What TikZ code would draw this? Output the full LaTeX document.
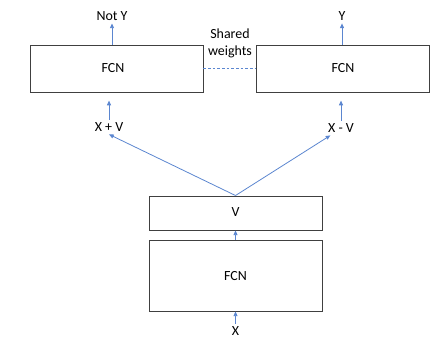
\documentclass[tikz,border=0pt]{standalone}
\usepackage{fontspec}
\setmainfont{Carlito}
\usepackage{tikz}
\usetikzlibrary{arrows.meta}

\definecolor{edgeblue}{HTML}{5B86D0}
\definecolor{boxgray}{HTML}{404040}

\tikzset{
    netbox/.style={draw=boxgray, line width=0.7pt, minimum width=4.578cm, minimum height=1.244cm, inner sep=0pt},
    flow/.style={-{Triangle[length=3.5pt,width=3pt]}, edgeblue, line width=0.6pt},
    lbl/.style={font=\fontsize{10.5pt}{12pt}\selectfont, inner sep=2pt}
}

\begin{document}
\begin{tikzpicture}[x=0.02646cm, y=-0.02646cm]
        \useasboundingbox (0,0) rectangle (434,338);
        % top pair of networks
        \node [netbox] (fcnL) at (116.5, 68.5) {};
        \node [netbox] (fcnR) at (342.5, 68.5) {};
        \node [lbl] at (113, 68.5) {FCN};
        \node [lbl] at (343, 68.5) {FCN};
        \node [lbl] (notY) at (112, 16) {Not Y};
        \node [lbl] (y) at (342, 16) {Y};
        \node [lbl, align=center, font=\fontsize{10.5pt}{12.8pt}\selectfont] (shared) at (230, 43) {Shared\\weights};
        \draw [dashed, edgeblue, line width=0.5pt, dash pattern=on 2pt off 1.5pt] (fcnL.east) -- (fcnR.west);
        \draw [flow] (notY.south |- fcnL.north) -- (notY.south);
        \draw [flow] (y.south |- fcnR.north) -- (y.south);
        % inputs to the top networks
        \node [lbl] (xpv) at (109, 127) {X + V};
        \node [lbl] (xmv) at (341, 128) {X - V};
        \draw [flow] (xpv.north) -- ++(0,-19);
        \draw [flow] (xmv.north) -- ++(0,-20);
        % lower network
        \node [netbox, minimum height=0.9cm] (v) at (235.5, 213) {};
        \node [lbl] at (235.5, 212) {V};
        \node [netbox, minimum height=1.879cm] (fcnB) at (235.5, 275.5) {};
        \node [lbl] at (235.5, 276) {FCN};
        \node [lbl] (x) at (235.5, 331) {X};
        \draw [flow] (v.north) -- (xpv.south);
        \draw [flow] (v.north) -- ([xshift=-8]xmv.south);
        \draw [flow] (fcnB.north) -- (v.south);
        \draw [flow] (x.north) -- (fcnB.south);
    \end{tikzpicture}
\end{document}
